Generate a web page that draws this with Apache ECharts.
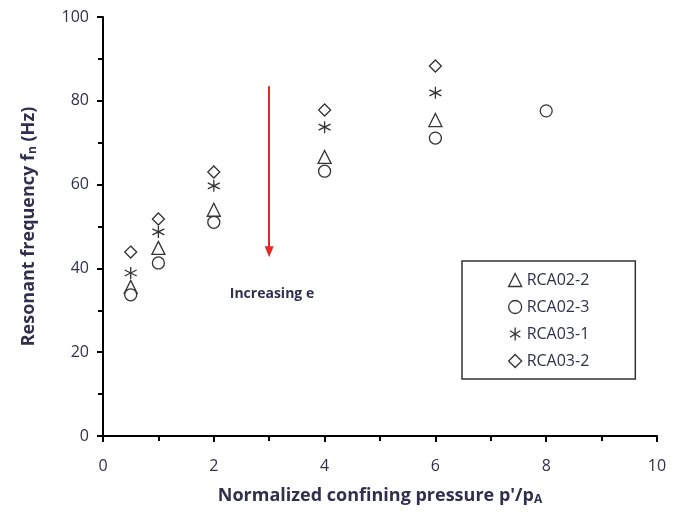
<!DOCTYPE html>
<html>
<head>
<meta charset="utf-8">
<script src="https://cdn.jsdelivr.net/npm/echarts@6/dist/echarts.min.js"></script>
<style>
  html, body { margin: 0; padding: 0; background: #fff; }
  #chart { width: 684px; height: 521px; }
</style>
</head>
<body>
<div id="chart"></div>
<script>
  // confining pressure p'/pA
  const pressure = [0.5, 1, 2, 4, 6, 8]
  // resonant frequency (Hz)
  const rca02_2 = [35.6, 44.9, 54.0, 66.6, 75.4, null]
  const rca02_3 = [33.7, 41.3, 51.0, 63.2, 71.1, 77.6]
  const rca03_1 = [38.9, 48.7, 59.7, 73.7, 81.9, null]
  const rca03_2 = [43.9, 51.8, 63.0, 77.8, 88.3, null]
  const seriesNames = ['RCA02-2', 'RCA02-3', 'RCA03-1', 'RCA03-2']
  const arrowFrom = [3, 83.5]
  const arrowTo = [3, 44]
  const notePos = [3.05, 34.0]

  const txtColor = '#2f2f4f'
  const font = 'Open Sans'

  // asterisk: vertical bar + X
  const asterisk = 'path://M5,0 L5,10 M1,2.5 L9,7.5 M1,7.5 L9,2.5'
  const symbols = ['triangle', 'circle', asterisk, 'diamond']
  const sizes = [13, 12, 12, 12]

  function pts (arr) {
    return pressure.map((p, i) => [p, arr[i]]).filter(d => d[1] != null)
  }

  const chart = echarts.init(document.getElementById('chart'))
  const all = [rca02_2, rca02_3, rca03_1, rca03_2]

  let series = all.map((arr, k) => ({
    name: seriesNames[k],
    type: 'scatter',
    data: pts(arr),
    symbol: symbols[k],
    symbolSize: sizes[k],
    itemStyle: {
      color: k === 2 ? 'none' : '#fff',
      borderColor: '#333',
      borderWidth: 1.3,
      opacity: 1
    }
  }))

  // 箭头和文字标注
  series[0].markLine = {
    silent: true,
    symbol: ['none', 'triangle'],
    symbolSize: [9, 11],
    lineStyle: { color: '#e8262a', width: 2, type: 'solid' },
    label: { show: false },
    data: [[{ coord: arrowFrom }, { coord: arrowTo }]]
  }
  series[0].markPoint = {
    silent: true,
    symbol: 'circle',
    symbolSize: 1,
    itemStyle: { color: 'rgba(0,0,0,0)', borderWidth: 0 },
    label: {
      show: true,
      position: 'inside',
      formatter: 'Increasing e',
      color: txtColor,
      fontFamily: font,
      fontWeight: 'bold',
      fontSize: 14
    },
    data: [{ coord: notePos }]
  }

  chart.setOption({
    animation: false,
    grid: { left: 103, right: 27, top: 17, bottom: 85 },
    legend: {
      orient: 'vertical',
      left: 462,
      top: 261,
      data: seriesNames.map((n, k) => ({ name: n, icon: symbols[k] })),
      itemWidth: 13,
      itemHeight: 13,
      itemGap: 11,
      padding: [11, 46, 10, 46],
      borderColor: '#333',
      borderWidth: 1.5,
      itemStyle: { color: '#fff', borderColor: '#333', borderWidth: 1.3 },
      textStyle: { color: txtColor, fontFamily: font, fontSize: 16 }
    },
    xAxis: {
      type: 'value',
      min: 0,
      max: 10,
      interval: 2,
      name: "Normalized confining pressure p'/p{s|A}",
      nameLocation: 'middle',
      nameGap: 50,
      nameTextStyle: {
        color: txtColor, fontFamily: font, fontWeight: 'bold', fontSize: 18,
        rich: { s: { fontSize: 12, fontWeight: 'bold', color: txtColor, fontFamily: font, verticalAlign: 'bottom', padding: [8, 0, 0, 0] } }
      },
      axisLine: { lineStyle: { color: '#000', width: 2 } },
      axisTick: { length: 6, lineStyle: { color: '#000', width: 2 } },
      minorTick: { show: true, splitNumber: 2, length: 5, lineStyle: { color: '#000', width: 2 } },
      splitLine: { show: false },
      axisLabel: { margin: 22, color: txtColor, fontFamily: font, fontSize: 16 }
    },
    yAxis: {
      type: 'value',
      min: 0,
      max: 100,
      interval: 20,
      name: 'Resonant frequency f{s|n} (Hz)',
      nameLocation: 'middle',
      nameGap: 64,
      nameTextStyle: {
        color: txtColor, fontFamily: font, fontWeight: 'bold', fontSize: 18,
        rich: { s: { fontSize: 12, fontWeight: 'bold', color: txtColor, fontFamily: font, verticalAlign: 'bottom', padding: [8, 0, 0, 0] } }
      },
      axisLine: { show: true, lineStyle: { color: '#000', width: 2 } },
      axisTick: { length: 6, lineStyle: { color: '#000', width: 2 } },
      minorTick: { show: true, splitNumber: 2, length: 5, lineStyle: { color: '#000', width: 2 } },
      splitLine: { show: false },
      axisLabel: { margin: 14, color: txtColor, fontFamily: font, fontSize: 16 }
    },
    series: series
  })
</script>
</body>
</html>
